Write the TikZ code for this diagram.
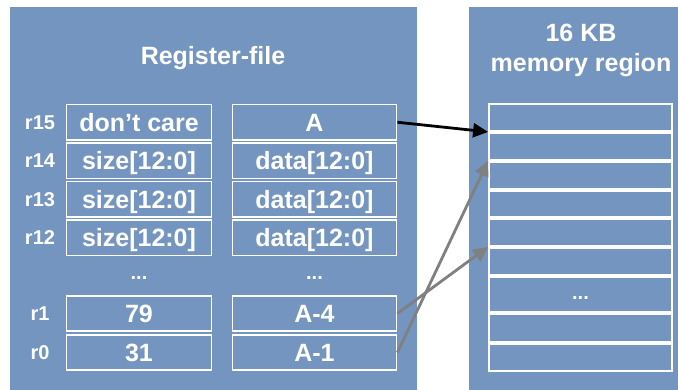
\documentclass[tikz,border=0pt]{standalone}
\usepackage{fontspec}
\setmainfont{Liberation Sans}
\usetikzlibrary{arrows.meta}
\definecolor{panelblue}{RGB}{116,149,192}
\definecolor{arrowgray}{RGB}{128,128,128}
\begin{document}
\begin{tikzpicture}[x=1pt,y=-1pt,
  panel/.style={fill=panelblue, draw=none},
  bigtext/.style={text=white, font=\bfseries\fontsize{25}{30}\selectfont, inner sep=0pt},
  reglabel/.style={text=white, font=\bfseries\fontsize{20}{24}\selectfont, inner sep=0pt, text height=14pt, text depth=0pt},
  dots/.style={text=white, font=\bfseries\fontsize{20}{22}\selectfont, inner sep=0pt},
  cell/.style={draw=white, line width=1.8pt, fill=panelblue, inner sep=0pt, text=white,
    font=\bfseries\fontsize{25}{30}\selectfont, text height=18pt, text depth=0pt, minimum height=35.5pt},
  leftcell/.style={cell, minimum width=145pt},
  rightcell/.style={cell, minimum width=164pt},
  memcell/.style={draw=white, line width=2.2pt, fill=panelblue, inner sep=0pt, minimum width=182.6pt, minimum height=26.6pt},
  blackarrow/.style={-{Triangle[length=15pt,width=14pt]}, line width=2.8pt, black},
  grayarrow/.style={-{Triangle[length=15pt,width=14pt]}, line width=2.8pt, arrowgray}
]
\useasboundingbox (0,0) rectangle (678,390);
\fill[white] (0,0) rectangle (678,390);
% panels
\path[panel] (10,7) rectangle (417,390);
\path[panel] (469,7) rectangle (678,390);
% titles
\node[bigtext, anchor=base] (title) at (213,65) {Register-file};
\node[bigtext, anchor=base] (memtitle1) at (581,42) {16 KB};
\node[bigtext, anchor=base] (memtitle2) at (581,72) {memory region};
% register labels
\node[reglabel] (l15) at (40,122.25) {r15};
\node[reglabel] (l14) at (40,160.75) {r14};
\node[reglabel] (l13) at (40,199.25) {r13};
\node[reglabel] (l12) at (40,237.75) {r12};
\node[reglabel] (l1) at (40,313.5) {r1};
\node[reglabel] (l0) at (40,352.5) {r0};
% left column
\node[leftcell] (s15) at (139,122.25) {don’t care};
\node[leftcell] (s14) at (139,160.75) {size[12:0]};
\node[leftcell] (s13) at (139,199.25) {size[12:0]};
\node[leftcell] (s12) at (139,237.75) {size[12:0]};
\node[leftcell] (s1) at (139,313.5) {79};
\node[leftcell] (s0) at (139,352.5) {31};
% right column
\node[rightcell] (d15) at (314.5,122.25) {A};
\node[rightcell] (d14) at (314.5,160.75) {data[12:0]};
\node[rightcell] (d13) at (314.5,199.25) {data[12:0]};
\node[rightcell] (d12) at (314.5,237.75) {data[12:0]};
\node[rightcell] (d1) at (314.5,313.5) {A-4};
\node[rightcell] (d0) at (314.5,352.5) {A-1};
% dots
\node[dots] (ldots) at (139,278) {...};
\node[dots] (rdots) at (314.5,278) {...};
% memory cells
\node[memcell] (m1) at (580.5,117.5) {};
\node[memcell] (m2) at (580.5,146.5) {};
\node[memcell] (m3) at (580.5,175.5) {};
\node[memcell, minimum height=25.6pt] (m4) at (580.5,204) {};
\node[memcell] (m5) at (580.5,232.5) {};
\node[memcell] (m6) at (580.5,261.5) {};
\node[memcell, minimum height=34.6pt] (m7) at (580.5,294.5) {};
\node[dots] (mdots) at (580.5,298) {...};
\node[memcell, minimum height=27.6pt] (m8) at (580.5,328) {};
\node[memcell] (m9) at (580.5,357.5) {};
% arrows
\draw[blackarrow] (d15.east) -- (m1.south west);
\draw[grayarrow] (d1.east) -- (m5.south west);
\draw[grayarrow] (d0.east) -- (m2.south west);
\end{tikzpicture}
\end{document}
